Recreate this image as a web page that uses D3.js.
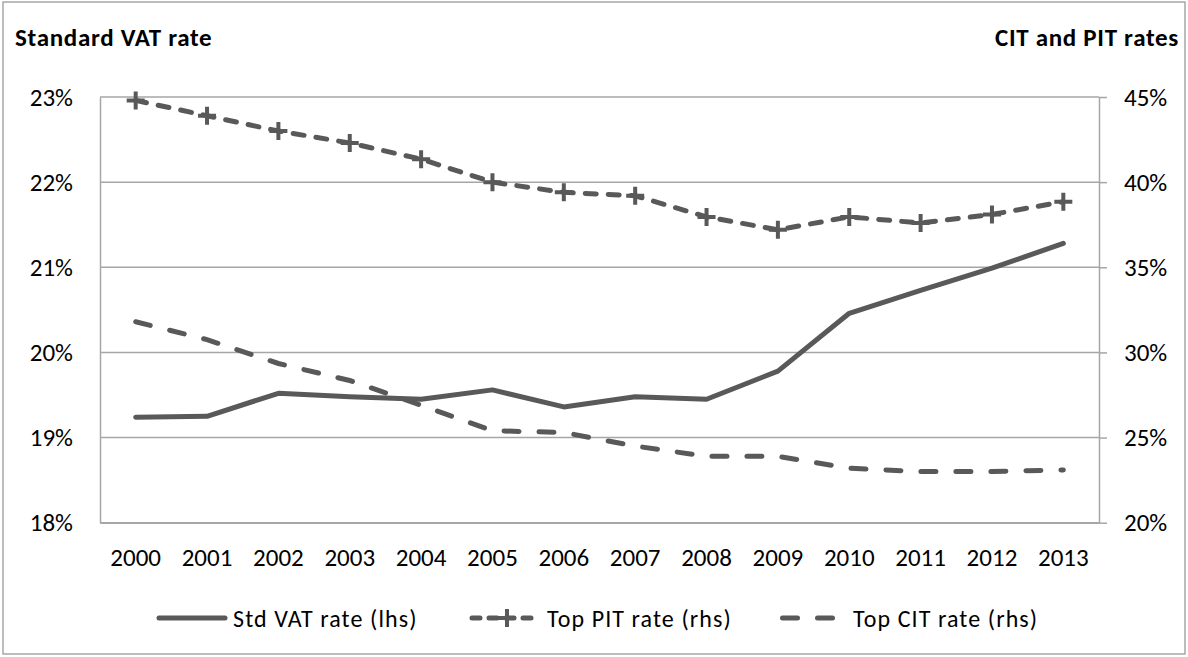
<!DOCTYPE html>
<html>
<head>
<meta charset="utf-8">
<script src="https://cdn.jsdelivr.net/npm/d3@7"></script>
<style>
  body { margin: 0; background: #fff; }
  text { font-family: Carlito, Calibri, Lato, sans-serif; fill: #000; }
</style>
</head>
<body>
<div id="chart"></div>
<script>
var years = ["2000","2001","2002","2003","2004","2005","2006","2007","2008","2009","2010","2011","2012","2013"];
var vatRate = [19.24, 19.25, 19.52, 19.48, 19.45, 19.56, 19.36, 19.48, 19.45, 19.78, 20.46, 20.73, 20.99, 21.28];
var pitRate = [44.8, 43.9, 43.0, 42.3, 41.35, 40.0, 39.4, 39.2, 37.96, 37.2, 37.96, 37.6, 38.1, 38.85];
var citRate = [31.8, 30.75, 29.35, 28.35, 26.9, 25.4, 25.3, 24.5, 23.9, 23.9, 23.2, 23.0, 23.0, 23.1];
var leftTicks = [18, 19, 20, 21, 22, 23];
var rightTicks = [20, 25, 30, 35, 40, 45];
var legendLabels = ["Std VAT rate (lhs)", "Top PIT rate (rhs)", "Top CIT rate (rhs)"];

var W = 1188, H = 657;
var margin = { top: 97, right: 89, bottom: 134.3, left: 100 },
  width = W - margin.left - margin.right,
  height = H - margin.top - margin.bottom;

var lineColor = "#595959", gridColor = "#a6a6a6";

var svg = d3.select("#chart")
  .append("svg")
  .attr("width", W)
  .attr("height", H);

// outer frame
svg.append("rect")
  .attr("x", 3).attr("y", 2)
  .attr("width", W - 6).attr("height", H - 5)
  .attr("fill", "none")
  .attr("stroke", gridColor)
  .attr("stroke-width", 1.5);

var g = svg.append("g")
  .attr("transform", "translate(" + margin.left + "," + margin.top + ")");

var x = d3.scaleBand().domain(years).range([0, width]);
var cx = d => x(d) + x.bandwidth() / 2;

var yL = d3.scaleLinear().domain([18, 23]).range([height, 0]);
var yR = d3.scaleLinear().domain([20, 45]).range([height, 0]);

// gridlines
g.append("g")
  .selectAll("line")
  .data(leftTicks)
  .join("line")
  .attr("x1", 0).attr("x2", width)
  .attr("y1", d => yL(d)).attr("y2", d => yL(d))
  .attr("stroke", gridColor)
  .attr("stroke-width", 1.5);

var fmt = d => d + "%";

var leftAxis = g.append("g")
  .call(d3.axisLeft(yL).tickValues(leftTicks).tickFormat(fmt).tickSize(0).tickPadding(27));

var rightAxis = g.append("g")
  .attr("transform", "translate(" + width + ",0)")
  .call(d3.axisRight(yR).tickValues(rightTicks).tickFormat(fmt).tickSize(8).tickSizeOuter(0).tickPadding(17));

var bottomAxis = g.append("g")
  .attr("transform", "translate(0," + height + ")")
  .call(d3.axisBottom(x).tickSize(0).tickPadding(26));

[leftAxis, rightAxis, bottomAxis].forEach(function (a) {
  a.attr("font-size", null).attr("font-family", null);
  a.select(".domain").attr("stroke", gridColor).attr("stroke-width", 1.5);
  a.selectAll(".tick line").attr("stroke", gridColor).attr("stroke-width", 1.5);
  a.selectAll("text").attr("font-size", 25).attr("fill", "#000");
});

// axis titles
svg.append("text")
  .attr("x", 15).attr("y", 46)
  .attr("font-size", 25).attr("font-weight", "bold")
  .attr("letter-spacing", 0.7)
  .text("Standard VAT rate");

svg.append("text")
  .attr("x", 1179).attr("y", 46)
  .attr("text-anchor", "end")
  .attr("font-size", 25).attr("font-weight", "bold")
  .attr("letter-spacing", 0.7)
  .text("CIT and PIT rates");

// lines
var lineL = d3.line().x((d, i) => cx(years[i])).y(d => yL(d));
var lineR = d3.line().x((d, i) => cx(years[i])).y(d => yR(d));

g.append("path")
  .datum(citRate)
  .attr("fill", "none")
  .attr("stroke", lineColor)
  .attr("stroke-width", 5)
  .attr("stroke-linecap", "round")
  .attr("stroke-dasharray", "15,20")
  .attr("d", lineR);

g.append("path")
  .datum(vatRate)
  .attr("fill", "none")
  .attr("stroke", lineColor)
  .attr("stroke-width", 5)
  .attr("stroke-linejoin", "round")
  .attr("stroke-linecap", "round")
  .attr("d", lineL);

g.append("path")
  .datum(pitRate)
  .attr("fill", "none")
  .attr("stroke", lineColor)
  .attr("stroke-width", 5)
  .attr("stroke-linecap", "round")
  .attr("stroke-dasharray", "11,12")
  .attr("d", lineR);

function plusPath(s) {
  return "M" + (-s) + ",0H" + s + "M0," + (-s) + "V" + s;
}

g.append("g")
  .selectAll("path")
  .data(pitRate)
  .join("path")
  .attr("transform", (d, i) => "translate(" + cx(years[i]) + "," + yR(d) + ")")
  .attr("d", plusPath(9))
  .attr("stroke", lineColor)
  .attr("stroke-width", 4)
  .attr("fill", "none");

// legend
var legY = 618;
var leg = svg.append("g");

leg.append("line")
  .attr("x1", 159).attr("x2", 225).attr("y1", legY).attr("y2", legY)
  .attr("stroke", lineColor).attr("stroke-width", 5).attr("stroke-linecap", "round");
leg.append("text").attr("x", 233).attr("y", legY + 9).attr("font-size", 24)
  .attr("letter-spacing", 1.1).text(legendLabels[0]);

leg.append("line")
  .attr("x1", 472).attr("x2", 540).attr("y1", legY).attr("y2", legY)
  .attr("stroke", lineColor).attr("stroke-width", 5).attr("stroke-linecap", "round")
  .attr("stroke-dasharray", "8,9");
leg.append("path")
  .attr("transform", "translate(507," + legY + ")")
  .attr("d", plusPath(9))
  .attr("stroke", lineColor).attr("stroke-width", 4).attr("fill", "none");
leg.append("text").attr("x", 547).attr("y", legY + 9).attr("font-size", 24)
  .attr("letter-spacing", 1.1).text(legendLabels[1]);

leg.append("line")
  .attr("x1", 782.5).attr("x2", 835).attr("y1", legY).attr("y2", legY)
  .attr("stroke", lineColor).attr("stroke-width", 5).attr("stroke-linecap", "round")
  .attr("stroke-dasharray", "15,20");
leg.append("text").attr("x", 853).attr("y", legY + 9).attr("font-size", 24)
  .attr("letter-spacing", 1.1).text(legendLabels[2]);
</script>
</body>
</html>
